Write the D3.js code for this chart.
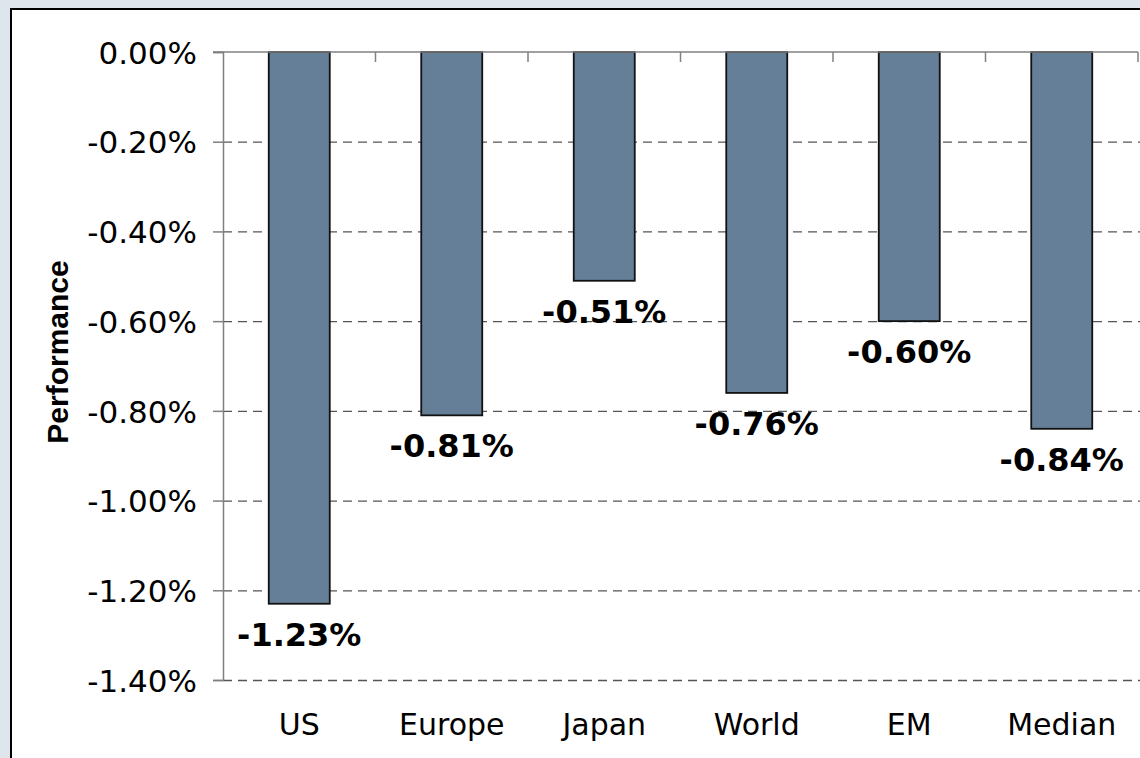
<!DOCTYPE html>
<html>
<head>
<meta charset="utf-8">
<script src="https://cdn.jsdelivr.net/npm/d3@7"></script>
<style>
  body { margin: 0; background: #dee5ec; }
  svg { display: block; }
  svg text { font-family: "DejaVu Sans", Verdana, sans-serif; }
</style>
</head>
<body>
<div id="chart"></div>
<script>
// bar chart of regional performance
var categories = ["US", "Europe", "Japan", "World", "EM", "Median"];
var values = [-1.23, -0.81, -0.51, -0.76, -0.60, -0.84];
var yTicks = [0, -0.2, -0.4, -0.6, -0.8, -1.0, -1.2, -1.4];

var W = 1140, H = 758;
var margin = {top: 52, left: 223, right: 2, bottom: 78};

var pct = function(d) {
  return (d < 0 ? "-" : "") + Math.abs(d).toFixed(2) + "%";
};

var svg = d3.select("#chart").append("svg")
    .attr("width", W)
    .attr("height", H);

// white panel with black frame
svg.append("rect")
    .attr("x", 11).attr("y", 9)
    .attr("width", W + 20).attr("height", H + 20)
    .attr("fill", "#fff")
    .attr("stroke", "#000")
    .attr("stroke-width", 2);

var x = d3.scaleBand()
    .domain(categories)
    .range([margin.left, W - margin.right])
    .paddingInner(0).paddingOuter(0);

var y = d3.scaleLinear()
    .domain([0, -1.4])
    .range([margin.top, H - margin.bottom]);

// dashed gridlines
svg.append("g").selectAll("line")
    .data(yTicks.filter(function(d) { return d !== 0; }))
  .enter().append("line")
    .attr("x1", margin.left).attr("x2", W)
    .attr("y1", function(d) { return y(d) + 0.5; })
    .attr("y2", function(d) { return y(d) + 0.5; })
    .attr("stroke", "#555")
    .attr("stroke-width", 1.3)
    .attr("stroke-dasharray", "9,6");

// bars
var bw = x.bandwidth() * 0.4;
svg.append("g").selectAll("rect")
    .data(values)
  .enter().append("rect")
    .attr("x", function(d, i) { return x(categories[i]) + (x.bandwidth() - bw) / 2; })
    .attr("y", y(0))
    .attr("width", bw)
    .attr("height", function(d) { return y(d) - y(0); })
    .attr("fill", "#647f97")
    .attr("stroke", "#111")
    .attr("stroke-width", 1.8);

// y axis
var yAxis = d3.axisLeft(y)
    .tickValues(yTicks)
    .tickSize(10)
    .tickPadding(16)
    .tickFormat(pct);

var gy = svg.append("g")
    .attr("transform", "translate(" + margin.left + ",0)")
    .call(yAxis)
    .attr("font-family", null);
gy.select(".domain").attr("stroke", "#808080").attr("stroke-width", 1.5);
gy.selectAll(".tick line").attr("stroke", "#808080").attr("stroke-width", 1.5);
gy.selectAll(".tick text")
    .attr("font-size", 31)
    .attr("fill", "#000")
    .attr("dy", "0.36em");

// top axis line (zero) with ticks between categories
svg.append("line")
    .attr("x1", margin.left - 10).attr("x2", W - margin.right)
    .attr("y1", y(0)).attr("y2", y(0))
    .attr("stroke", "#808080").attr("stroke-width", 1.5);
svg.append("g").selectAll("line")
    .data(categories)
  .enter().append("line")
    .attr("x1", function(d) { return x(d) + x.bandwidth(); })
    .attr("x2", function(d) { return x(d) + x.bandwidth(); })
    .attr("y1", y(0)).attr("y2", y(0) + 10)
    .attr("stroke", "#808080").attr("stroke-width", 1.5);

// category labels
var xAxis = d3.axisBottom(x).tickSize(0).tickPadding(34);
var gx = svg.append("g")
    .attr("transform", "translate(0," + y(-1.4) + ")")
    .call(xAxis)
    .attr("font-family", null);
gx.select(".domain").remove();
gx.selectAll(".tick text").attr("font-size", 30).attr("fill", "#000");

// value labels
svg.append("g").selectAll("text")
    .data(values)
  .enter().append("text")
    .attr("x", function(d, i) { return x(categories[i]) + x.bandwidth() / 2; })
    .attr("y", function(d) { return y(d) + 42; })
    .attr("text-anchor", "middle")
    .attr("font-size", 32)
    .attr("font-weight", "bold")
    .text(pct);

// axis title
svg.append("text")
    .attr("transform", "translate(68,352) rotate(-90)")
    .attr("text-anchor", "middle")
    .style("font-family", "'Liberation Sans', Arial, sans-serif")
    .attr("font-size", 30)
    .attr("font-weight", "bold")
    .text("Performance");
</script>
</body>
</html>
